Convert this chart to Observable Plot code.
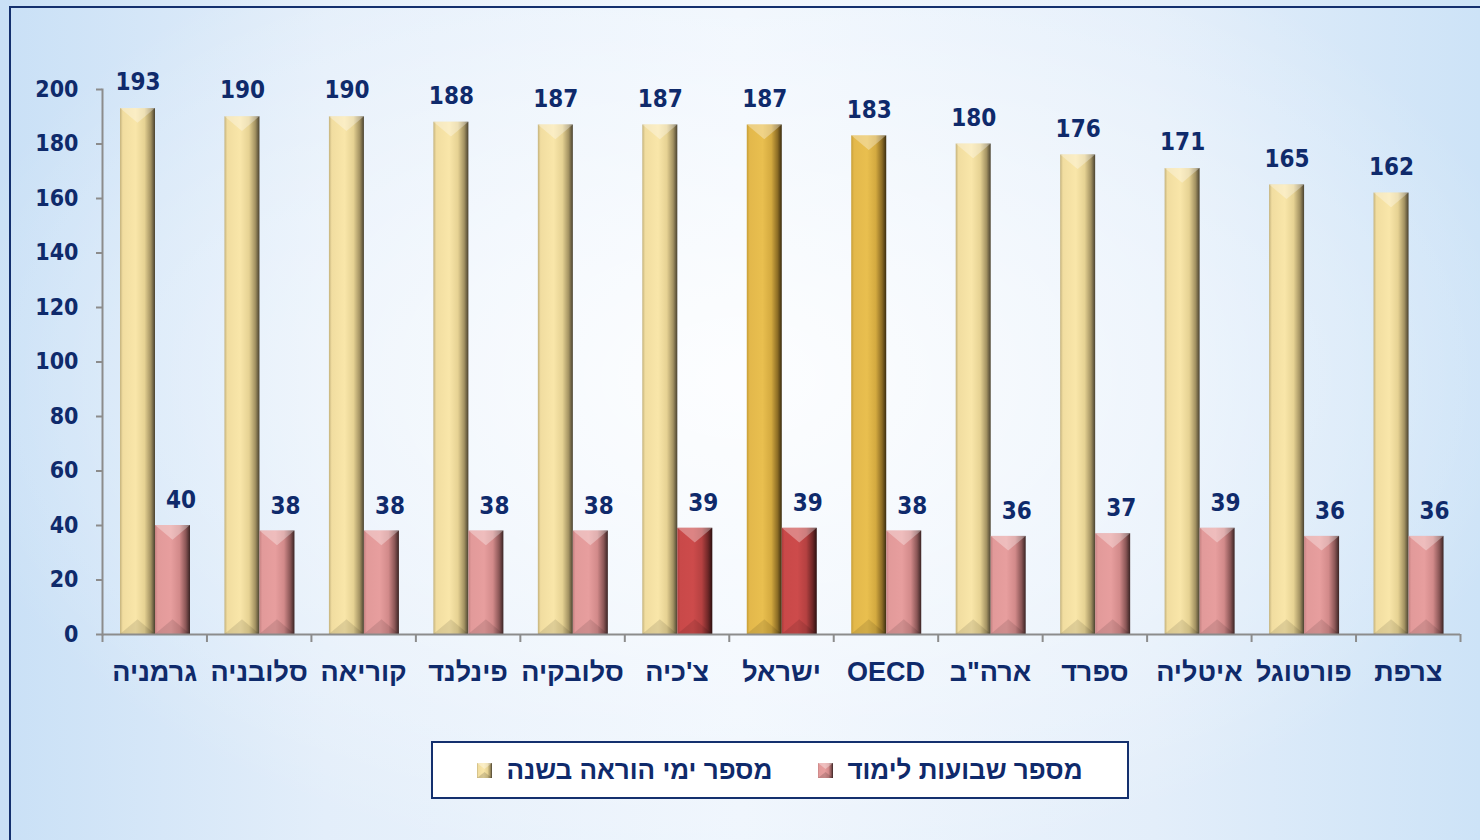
<!DOCTYPE html>
<html>
<head>
<meta charset="utf-8">
<script src="https://cdn.jsdelivr.net/npm/d3@7"></script>
<script src="https://cdn.jsdelivr.net/npm/@observablehq/plot@0.6"></script>
<style>
html, body { margin: 0; padding: 0; }
body {
  width: 1480px; height: 840px; overflow: hidden; position: relative;
  background:
    radial-gradient(ellipse 55% 60% at 50% 45%, rgba(255,255,255,0.85) 0%, rgba(255,255,255,0.35) 60%, rgba(255,255,255,0) 100%),
    linear-gradient(90deg, #c9e0f6 0%, #e3eefa 22%, #eef5fd 50%, #e3eefa 78%, #cde3f7 100%);
}
#frame { position: absolute; left: 9px; top: 6px; width: 1520px; height: 900px; border: 2px solid #14306e; box-sizing: border-box; }
#chart { position: absolute; left: 0; top: 0; }
#legend {
  position: absolute; left: 431px; top: 741px; width: 698px; height: 58px; box-sizing: border-box;
  border: 2px solid #14306e; background: #fff;
  display: flex; align-items: center; justify-content: center; gap: 46px; direction: ltr;
  font-family: "Liberation Sans", Arial, sans-serif; font-weight: bold; font-size: 26px; color: #0f2a6b;
}
.item { display: flex; align-items: center; gap: 14px; }
.sw { width: 15px; height: 15px; }
</style>
</head>
<body>
<svg width="0" height="0" style="position:absolute">
  <defs>
    <linearGradient id="gYellow" x1="0" x2="1" y1="0" y2="0">
      <stop offset="0" stop-color="#c4b27c"/>
      <stop offset="0.08" stop-color="#f1dda0"/>
      <stop offset="0.45" stop-color="#f9e6a9"/>
      <stop offset="0.7" stop-color="#e6d293"/>
      <stop offset="0.88" stop-color="#a39262"/>
      <stop offset="1" stop-color="#4a4230"/>
    </linearGradient>
    <linearGradient id="gGold" x1="0" x2="1" y1="0" y2="0">
      <stop offset="0" stop-color="#c79e36"/>
      <stop offset="0.08" stop-color="#e3b84b"/>
      <stop offset="0.45" stop-color="#e9bf4f"/>
      <stop offset="0.7" stop-color="#d4aa40"/>
      <stop offset="0.88" stop-color="#8c6c25"/>
      <stop offset="1" stop-color="#3b2d10"/>
    </linearGradient>
    <linearGradient id="gPink" x1="0" x2="1" y1="0" y2="0">
      <stop offset="0" stop-color="#c68282"/>
      <stop offset="0.08" stop-color="#e29a9a"/>
      <stop offset="0.45" stop-color="#e79e9e"/>
      <stop offset="0.7" stop-color="#d28a8a"/>
      <stop offset="0.88" stop-color="#8a5656"/>
      <stop offset="1" stop-color="#3a2424"/>
    </linearGradient>
    <linearGradient id="gRed" x1="0" x2="1" y1="0" y2="0">
      <stop offset="0" stop-color="#ad3d3d"/>
      <stop offset="0.08" stop-color="#c94949"/>
      <stop offset="0.45" stop-color="#cd4b4b"/>
      <stop offset="0.7" stop-color="#b54141"/>
      <stop offset="0.88" stop-color="#6e2727"/>
      <stop offset="1" stop-color="#2c1010"/>
    </linearGradient>
  </defs>
</svg>
<div id="frame"></div>
<div id="chart"></div>
<div id="legend">
  <div class="item"><svg class="sw" viewBox="0 0 15 15"><rect width="15" height="15" fill="url(#gYellow)"/><polygon points="0,0 15,0 7.5,6" fill="rgba(255,255,255,0.35)"/><polygon points="0,15 15,15 7.5,9" fill="rgba(0,0,0,0.15)"/></svg><span dir="rtl" id="lgDays"></span></div>
  <div class="item"><svg class="sw" viewBox="0 0 15 15"><rect width="15" height="15" fill="url(#gPink)"/><polygon points="0,0 15,0 7.5,6" fill="rgba(255,255,255,0.35)"/><polygon points="0,15 15,15 7.5,9" fill="rgba(0,0,0,0.15)"/></svg><span dir="rtl" id="lgWeeks"></span></div>
</div>
<script>
// ---- data ----
const countries = ["גרמניה", "סלובניה", "קוריאה", "פינלנד", "סלובקיה", "צ'כיה", "ישראל", "OECD", "ארה\"ב", "ספרד", "איטליה", "פורטוגל", "צרפת"];
const days  = [193, 190, 190, 188, 187, 187, 187, 183, 180, 176, 171, 165, 162];
const weeks = [40, 38, 38, 38, 38, 39, 39, 38, 36, 37, 39, 36, 36];
const daysHighlight  = ["ישראל", "OECD"];
const weeksHighlight = ["צ'כיה", "ישראל"];
const yTicks = [0, 20, 40, 60, 80, 100, 120, 140, 160, 180, 200];
const seriesNames = ["מספר ימי הוראה בשנה", "מספר שבועות לימוד"];

document.getElementById("lgDays").textContent = seriesNames[0];
document.getElementById("lgWeeks").textContent = seriesNames[1];

const data = countries.map((c, i) => ({country: c, days: days[i], weeks: weeks[i]}));

// ---- layout ----
const W = 1480, H = 720, mL = 102, mR = 20, mT = 89, mB = 86;
const bw = (W - mL - mR) / countries.length;
const barW = 35, padL = 18;
const navy = "#0f2a6b";
const axisGray = "#8c8c8c";
const numFont = "'DejaVu Sans Condensed', 'DejaVu Sans', sans-serif";
const catFont = "'Liberation Sans', Arial, sans-serif";

function bevel(index, scales, values, dims, ctx, next) {
  const g = next(index, scales, values, dims, ctx);
  const sel = d3.select(g);
  sel.selectAll("rect").each(function() {
    const x = +this.getAttribute("x"), y = +this.getAttribute("y");
    const w = +this.getAttribute("width"), h = +this.getAttribute("height");
    const d = Math.min(w * 0.42, h / 2);
    sel.append("polygon").attr("points", `${x},${y} ${x + w},${y} ${x + w / 2},${y + d}`).attr("fill", "rgba(255,255,255,0.32)");
    sel.append("polygon").attr("points", `${x},${y + h} ${x + w},${y + h} ${x + w / 2},${y + h - d}`).attr("fill", "rgba(0,0,0,0.10)");
  });
  return g;
}

const daysBar = {x: "country", y: "days", insetLeft: padL, insetRight: bw - padL - barW, render: bevel};
const weeksBar = {x: "country", y: "weeks", insetLeft: padL + barW, insetRight: bw - padL - 2 * barW, render: bevel};

const chart = Plot.plot({
  width: W, height: H,
  marginLeft: mL, marginRight: mR, marginTop: mT, marginBottom: mB,
  style: {background: "transparent", fontFamily: numFont, overflow: "visible"},
  x: {domain: countries, padding: 0, round: false, axis: null},
  y: {domain: [0, 200], axis: null},
  marks: [
    Plot.barY(data, {...daysBar, filter: d => !daysHighlight.includes(d.country), fill: "url(#gYellow)"}),
    Plot.barY(data, {...daysBar, filter: d => daysHighlight.includes(d.country), fill: "url(#gGold)"}),
    Plot.barY(data, {...weeksBar, filter: d => !weeksHighlight.includes(d.country), fill: "url(#gPink)"}),
    Plot.barY(data, {...weeksBar, filter: d => weeksHighlight.includes(d.country), fill: "url(#gRed)"}),
    Plot.frame({anchor: "left", stroke: axisGray, strokeWidth: 2}),
    Plot.ruleY([0], {stroke: axisGray, strokeWidth: 2}),
    Plot.ruleX(countries, {x: d => d, y1: 0, y2: 0, insetBottom: -8, dx: -bw / 2, stroke: axisGray, strokeWidth: 2}),
    Plot.ruleX(countries.slice(-1), {x: d => d, y1: 0, y2: 0, insetBottom: -8, dx: bw / 2, stroke: axisGray, strokeWidth: 2}),
    Plot.axisY({ticks: yTicks, tickSize: 6, tickPadding: 18, stroke: axisGray, strokeWidth: 2, fill: navy,
      fontSize: 23, fontWeight: "bold", fontFamily: numFont, tickFormat: d => String(d)}),
    Plot.axisX({tickSize: 0, tickPadding: 27, fill: navy, fontSize: 27, fontWeight: "bold", fontFamily: catFont, label: null}),
    Plot.text(data, {x: "country", y: "days", text: d => String(d.days), dx: padL + barW / 2 - bw / 2, dy: -26,
      fill: navy, fontSize: 24, fontWeight: "bold", fontFamily: numFont}),
    Plot.text(data, {x: "country", y: "weeks", text: d => String(d.weeks), dx: padL + barW * 1.5 - bw / 2 + 8, dy: -25,
      fill: navy, fontSize: 24, fontWeight: "bold", fontFamily: numFont})
  ]
});
document.getElementById("chart").appendChild(chart);
</script>
</body>
</html>
